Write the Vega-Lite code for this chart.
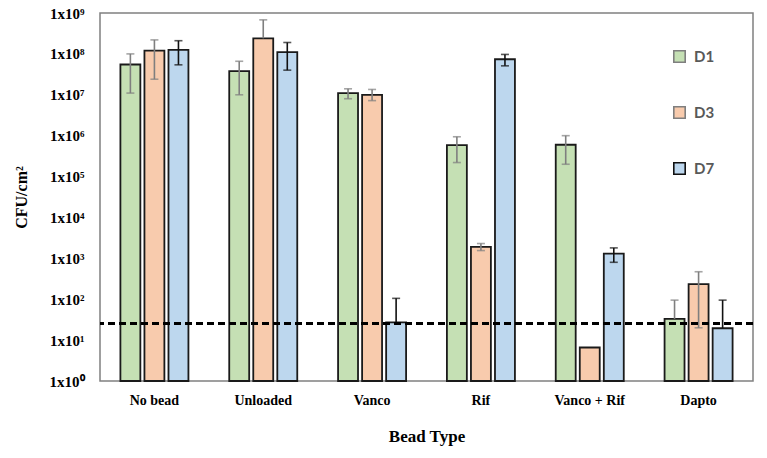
{
  "$schema": "https://vega.github.io/schema/vega-lite/v6.json",
  "width": 653,
  "height": 368,
  "autosize": {"type": "none"},
  "padding": {"left": 100, "top": 13, "right": 14, "bottom": 77},
  "background": "white",
  "config": {
    "view": {"stroke": "#808080", "strokeWidth": 1.5},
    "font": "Liberation Serif",
    "axis": {"labelFont": "Liberation Serif", "titleFont": "Liberation Serif"}
  },
  "data": {
    "values": [
      {"bead": "No bead", "day": "D1", "value": 55000000, "lo": 11000000, "hi": 100000000},
      {"bead": "No bead", "day": "D3", "value": 120000000, "lo": 24000000, "hi": 220000000},
      {"bead": "No bead", "day": "D7", "value": 126000000, "lo": 54000000, "hi": 210000000},
      {"bead": "Unloaded", "day": "D1", "value": 38000000, "lo": 10000000, "hi": 66000000},
      {"bead": "Unloaded", "day": "D3", "value": 240000000, "lo": 240000000, "hi": 680000000},
      {"bead": "Unloaded", "day": "D7", "value": 110000000, "lo": 40000000, "hi": 190000000},
      {"bead": "Vanco", "day": "D1", "value": 11000000, "lo": 8000000, "hi": 14000000},
      {"bead": "Vanco", "day": "D3", "value": 10000000, "lo": 7200000, "hi": 13500000},
      {"bead": "Vanco", "day": "D7", "value": 27, "lo": 27, "hi": 105},
      {"bead": "Rif", "day": "D1", "value": 590000, "lo": 220000, "hi": 940000},
      {"bead": "Rif", "day": "D3", "value": 1900, "lo": 1550, "hi": 2300},
      {"bead": "Rif", "day": "D7", "value": 74000000, "lo": 51000000, "hi": 97000000},
      {"bead": "Vanco + Rif", "day": "D1", "value": 600000, "lo": 200000, "hi": 1000000},
      {"bead": "Vanco + Rif", "day": "D3", "value": 6.6, "lo": 6.6, "hi": 6.6},
      {"bead": "Vanco + Rif", "day": "D7", "value": 1300, "lo": 800, "hi": 1800},
      {"bead": "Dapto", "day": "D1", "value": 33, "lo": 33, "hi": 95},
      {"bead": "Dapto", "day": "D3", "value": 235, "lo": 20, "hi": 470},
      {"bead": "Dapto", "day": "D7", "value": 19.5, "lo": 19.5, "hi": 95}
    ]
  },
  "layer": [
    {
      "mark": {"type": "bar", "stroke": "#1a1a1a", "strokeWidth": 1.8},
      "encoding": {
        "x": {
          "field": "bead",
          "type": "nominal",
          "sort": ["No bead", "Unloaded", "Vanco", "Rif", "Vanco + Rif", "Dapto"],
          "scale": {"paddingInner": 0.375, "paddingOuter": 0.1875},
          "axis": {
            "title": "Bead Type",
            "labelAngle": 0,
            "labelFontWeight": "bold",
            "labelFontSize": 14,
            "labelColor": "#000000",
            "labelPadding": 12,
            "ticks": false,
            "domain": false,
            "titleFontWeight": "bold",
            "titleFontSize": 17,
            "titleColor": "#000000",
            "titlePadding": 21
          }
        },
        "xOffset": {
          "field": "day",
          "type": "nominal",
          "sort": ["D1", "D3", "D7"],
          "scale": {"paddingInner": 0.17, "paddingOuter": 0}
        },
        "y": {
          "field": "value",
          "type": "quantitative",
          "scale": {"type": "log", "domain": [1, 1000000000], "nice": false},
          "axis": {
            "title": "CFU/cm²",
            "values": [1, 10, 100, 1000, 10000, 100000, 1000000, 10000000, 100000000, 1000000000],
            "labelExpr": "'1x10' + ['⁰','¹','²','³','⁴','⁵','⁶','⁷','⁸','⁹'][round(log(datum.value)/LN10)]",
            "labelFontWeight": "bold",
            "labelFontSize": 15,
            "labelColor": "#000000",
            "labelPadding": 16,
            "ticks": false,
            "domain": false,
            "grid": false,
            "titleFontWeight": "bold",
            "titleFontSize": 16,
            "titleColor": "#000000",
            "titlePadding": 20
          }
        },
        "y2": {"datum": 1},
        "fill": {
          "field": "day",
          "type": "nominal",
          "scale": {"domain": ["D1", "D3", "D7"], "range": ["#c5e0b4", "#f8cbad", "#bdd7ee"]},
          "legend": {
            "title": null,
            "orient": "none",
            "legendX": 572,
            "legendY": 36,
            "symbolType": "square",
            "symbolSize": 130,
            "symbolStrokeColor": "#1a1a1a",
            "symbolStrokeWidth": 1.6,
            "labelFont": "Lato",
            "labelFontWeight": "bold",
            "labelFontSize": 15,
            "labelColor": "#595959",
            "labelOffset": 7,
            "rowPadding": 37,
            "padding": 0
          }
        }
      }
    },
    {
      "transform": [{"filter": "datum.hi > datum.lo"}],
      "mark": {"type": "rule", "strokeWidth": 1.6},
      "encoding": {
        "x": {"field": "bead", "type": "nominal", "sort": ["No bead", "Unloaded", "Vanco", "Rif", "Vanco + Rif", "Dapto"]},
        "xOffset": {"field": "day", "type": "nominal", "sort": ["D1", "D3", "D7"]},
        "y": {"field": "lo", "type": "quantitative"},
        "y2": {"field": "hi"},
        "stroke": {
          "field": "day",
          "type": "nominal",
          "scale": {"domain": ["D1", "D3", "D7"], "range": ["#7f7f7f", "#7f7f7f", "#111111"]},
          "legend": null
        }
      }
    },
    {
      "transform": [{"filter": "datum.hi > datum.value"}],
      "mark": {"type": "tick", "size": 8, "thickness": 1.6, "orient": "horizontal"},
      "encoding": {
        "x": {"field": "bead", "type": "nominal", "sort": ["No bead", "Unloaded", "Vanco", "Rif", "Vanco + Rif", "Dapto"]},
        "xOffset": {"field": "day", "type": "nominal", "sort": ["D1", "D3", "D7"]},
        "y": {"field": "hi", "type": "quantitative"},
        "color": {
          "field": "day",
          "type": "nominal",
          "scale": {"domain": ["D1", "D3", "D7"], "range": ["#7f7f7f", "#7f7f7f", "#111111"]},
          "legend": null
        }
      }
    },
    {
      "transform": [{"filter": "datum.lo < datum.value"}],
      "mark": {"type": "tick", "size": 8, "thickness": 1.6, "orient": "horizontal"},
      "encoding": {
        "x": {"field": "bead", "type": "nominal", "sort": ["No bead", "Unloaded", "Vanco", "Rif", "Vanco + Rif", "Dapto"]},
        "xOffset": {"field": "day", "type": "nominal", "sort": ["D1", "D3", "D7"]},
        "y": {"field": "lo", "type": "quantitative"},
        "color": {
          "field": "day",
          "type": "nominal",
          "scale": {"domain": ["D1", "D3", "D7"], "range": ["#7f7f7f", "#7f7f7f", "#111111"]},
          "legend": null
        }
      }
    },
    {
      "mark": {"type": "rule", "color": "#000000", "strokeWidth": 2, "strokeDash": [7, 4]},
      "encoding": {
        "y": {"datum": 25}
      }
    }
  ]
}
